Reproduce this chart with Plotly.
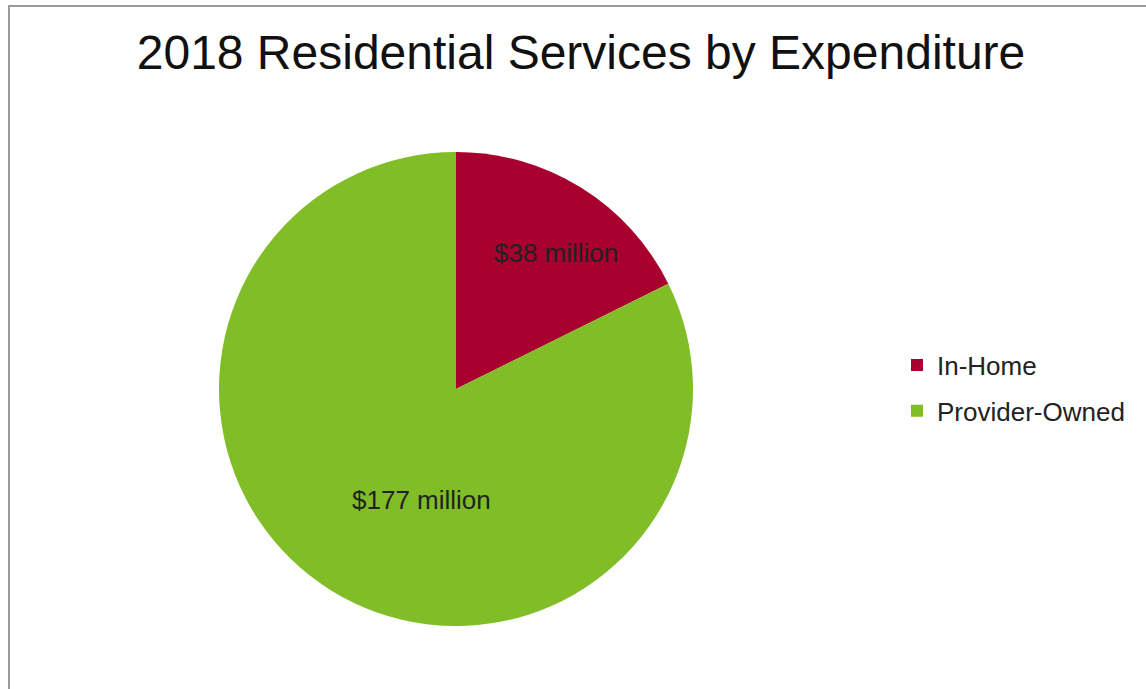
import plotly.graph_objects as go

# Residential services spending, 2018 (millions of dollars)
categories = ["In-Home", "Provider-Owned"]
expenditure = [38, 177]
slice_colors = ["#a8002f", "#80bd27"]

W, H = 1146, 689
FONT = "Liberation Sans, Arial, sans-serif"

fig = go.Figure()
fig.add_trace(
    go.Pie(
        labels=categories,
        values=expenditure,
        sort=False,
        direction="clockwise",
        rotation=0,
        marker=dict(colors=slice_colors, line=dict(width=0)),
        textinfo="none",
        hoverinfo="label+value+percent",
        showlegend=False,
        domain=dict(x=[(456 - 237) / W, (456 + 237) / W],
                    y=[1 - 626 / H, 1 - 152 / H]),
    )
)

# Legend entries as square swatches, one group each so the rows can be spaced out
for name, color in zip(categories, slice_colors):
    fig.add_trace(
        go.Scatter(
            x=[None], y=[None], mode="markers", name=name, legendgroup=name,
            marker=dict(symbol="square", size=12, color=color),
            hoverinfo="skip",
        )
    )

# Slice value labels
label_pos = [(556, 253), (421, 500)]
annotations = [
    dict(
        text=f"${v} million", x=px / W, y=1 - py / H, xref="paper", yref="paper",
        xanchor="center", yanchor="middle", showarrow=False,
        font=dict(family=FONT, size=26, color="#222222"),
    )
    for v, (px, py) in zip(expenditure, label_pos)
]

fig.update_layout(
    width=W,
    height=H,
    margin=dict(l=0, r=0, t=0, b=0),
    paper_bgcolor="white",
    plot_bgcolor="white",
    font=dict(family=FONT, color="#222222"),
    xaxis=dict(visible=False),
    yaxis=dict(visible=False),
    title=dict(
        text="2018 Residential Services by Expenditure",
        font=dict(size=48, color="#111111"),
        x=581 / W,
        xanchor="center",
        y=1 - 52 / H,
        yanchor="middle",
    ),
    legend=dict(
        x=897 / W,
        xanchor="left",
        y=1 - 388 / H,
        yanchor="middle",
        font=dict(size=26, color="#222222"),
        bgcolor="rgba(0,0,0,0)",
        tracegroupgap=9,
        itemwidth=30,
    ),
    annotations=annotations,
    shapes=[
        dict(
            type="rect",
            xref="paper",
            yref="paper",
            x0=9 / W,
            x1=1.05,
            y0=-0.05,
            y1=1 - 6 / H,
            line=dict(color="#9a9a9a", width=2),
            fillcolor="rgba(0,0,0,0)",
            layer="below",
        )
    ],
)

fig.write_html("out.html")
